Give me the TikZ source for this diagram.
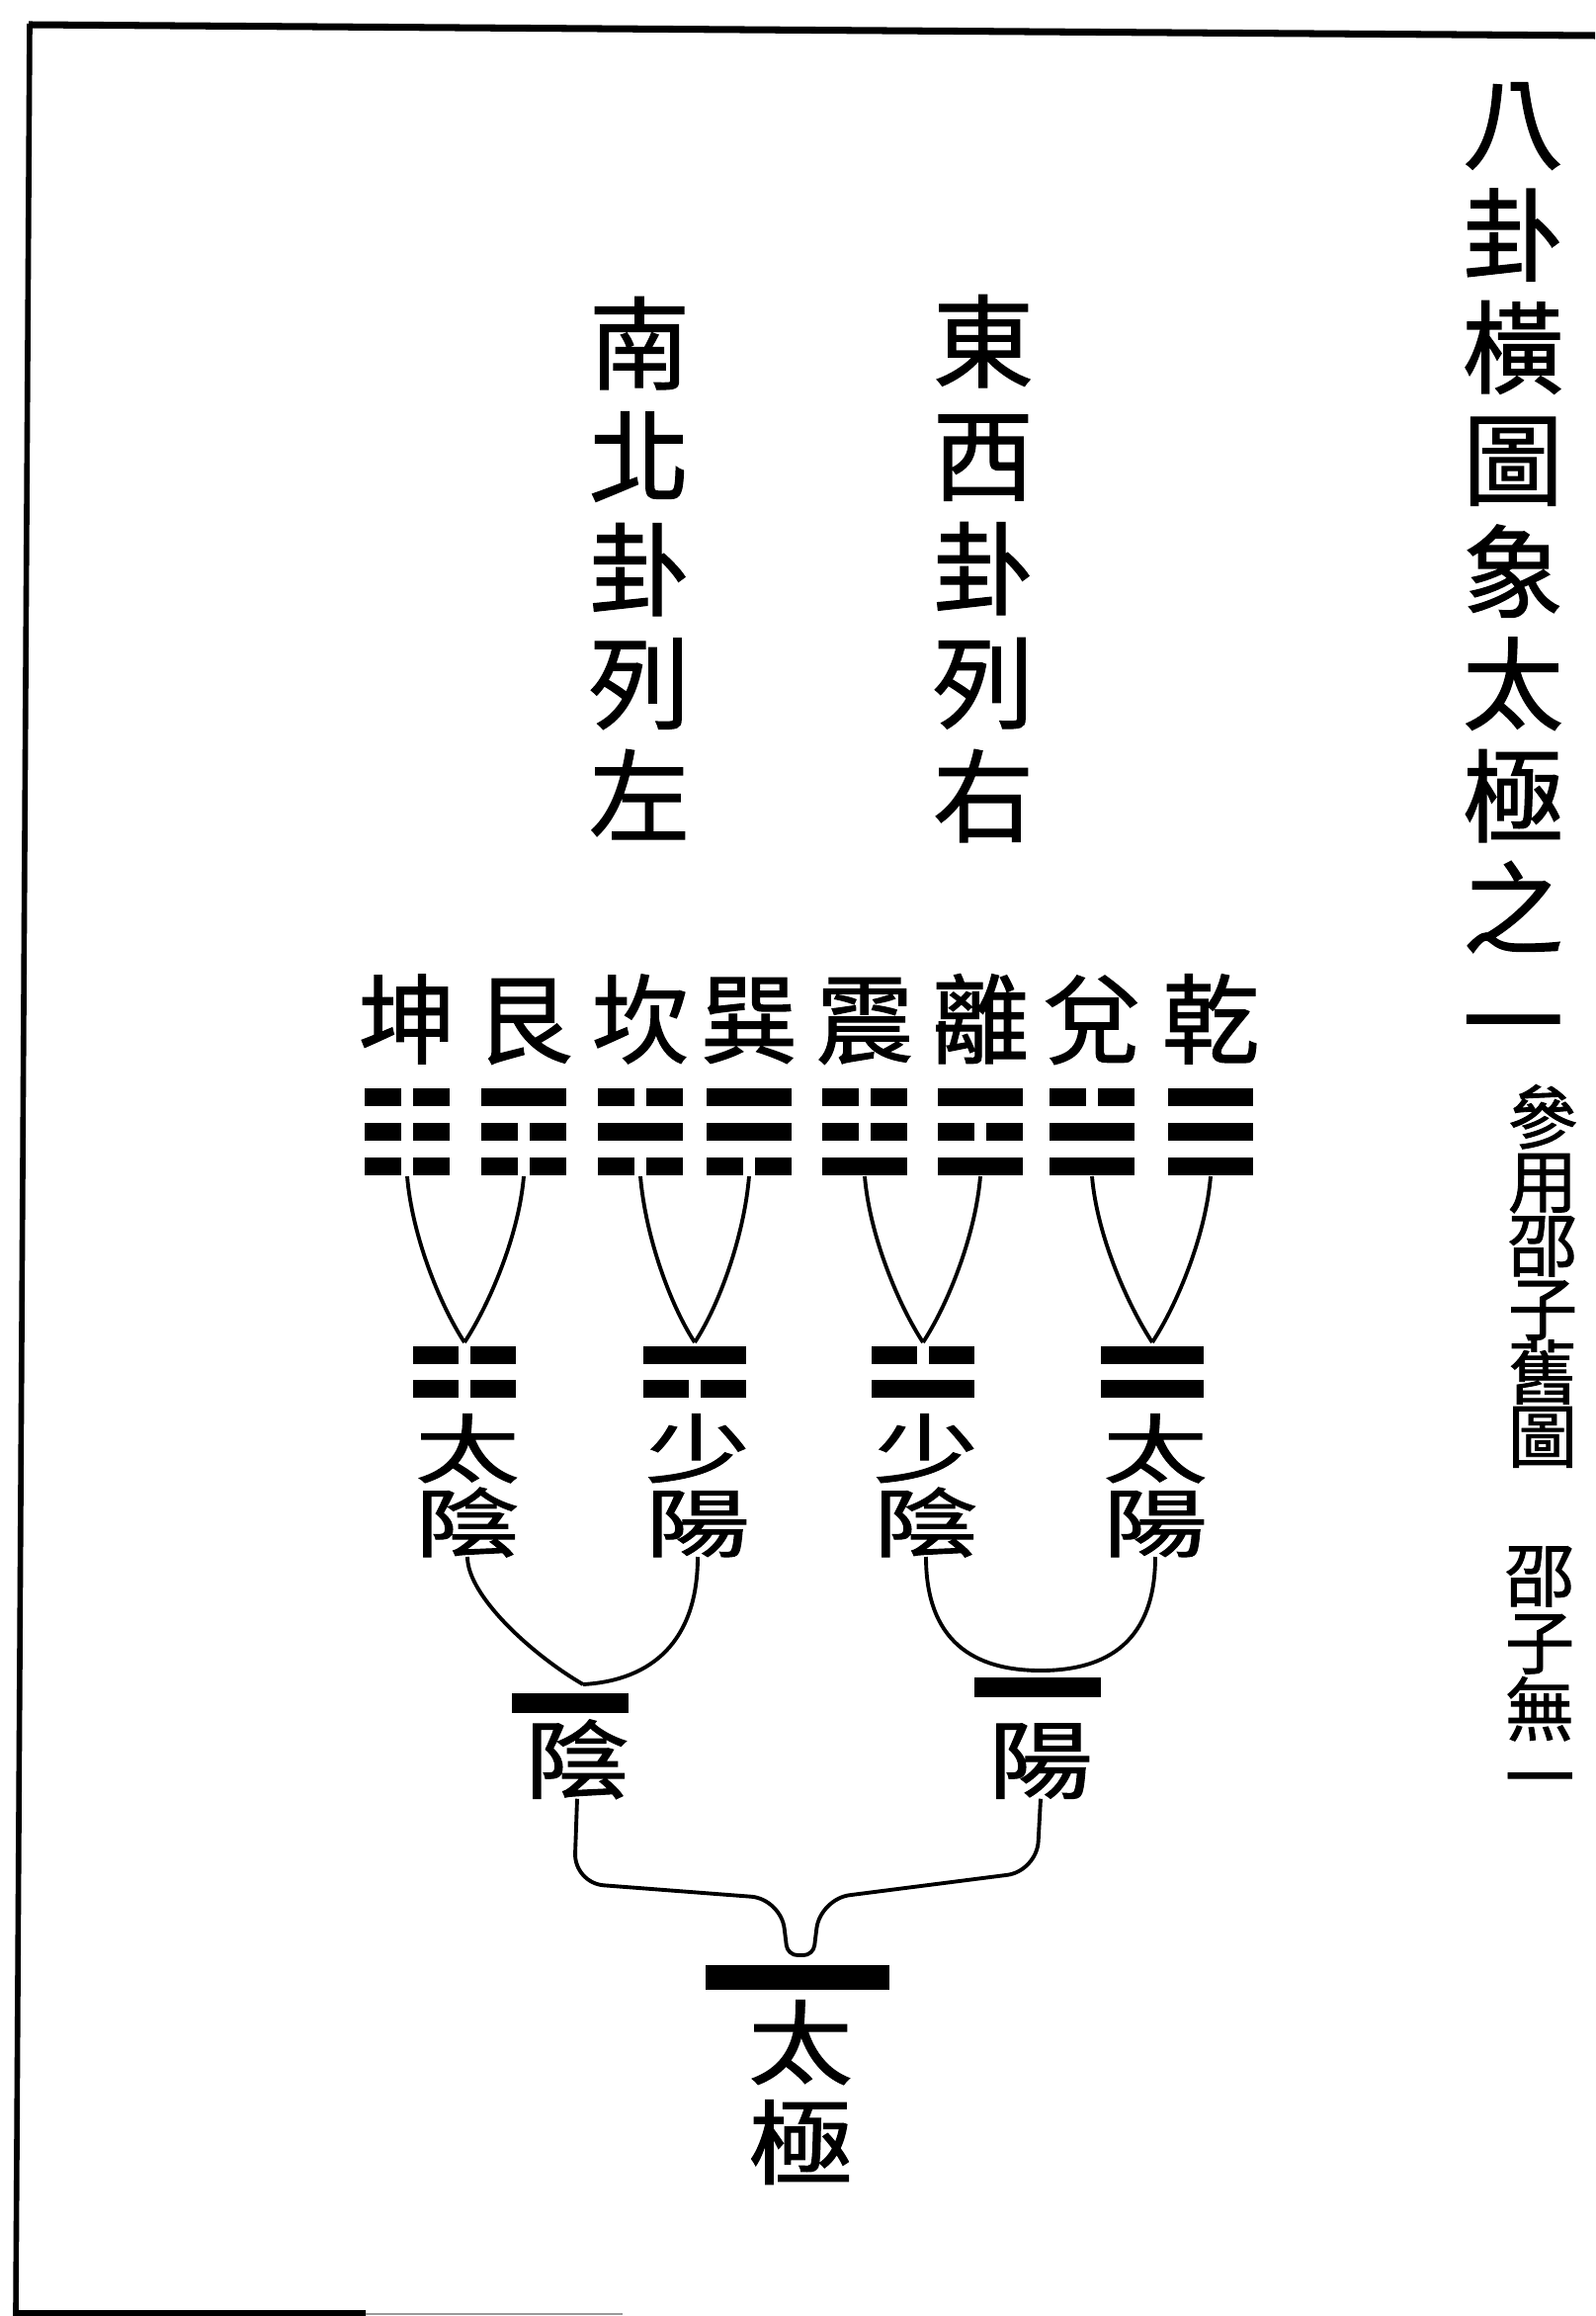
\documentclass[tikz,border=0pt]{standalone}
\usepackage{fontspec}
\usepackage{graphicx}
\newfontfamily\cjk[FakeBold=1.2]{Noto Sans CJK TC}
\newcommand\squash[2]{\scalebox{1}[#1]{#2}}
% one line of a figure: x, y, 1 = whole / 0 = broken, width
\newcommand\yao[4]{%
  \ifnum#3=1
    \fill (#1-#4/2,#2-9) rectangle (#1+#4/2,#2+9);
  \else
    \fill (#1-#4/2,#2-9) rectangle (#1-6,#2+9);
    \fill (#1+6,#2-9) rectangle (#1+#4/2,#2+9);
  \fi}
\begin{document}
\begin{tikzpicture}[x=0.01cm, y=-0.01cm,
  big/.style={inner sep=0pt, text height=24.1pt, text depth=2pt,
              font=\cjk\fontsize{29pt}{29pt}\selectfont},
  gua/.style={inner sep=0pt, text height=23.2pt, text depth=2pt,
              font=\cjk\fontsize{28pt}{28pt}\selectfont},
  note/.style={inner sep=0pt, text height=16.6pt, text depth=1.4pt,
               font=\cjk\fontsize{20pt}{20pt}\selectfont},
  xiang/.style={inner sep=0pt, text height=18pt, text depth=1.5pt,
                font=\cjk\fontsize{30pt}{30pt}\selectfont},
  yi/.style={inner sep=0pt, text height=20.4pt, text depth=1.8pt,
             font=\cjk\fontsize{30pt}{30pt}\selectfont},
  ji/.style={inner sep=0pt, text height=21.9pt, text depth=1.8pt,
             font=\cjk\fontsize{30pt}{30pt}\selectfont},
  bar/.style={fill, inner sep=0pt, minimum height=0.2cm},
  link/.style={line width=1.1pt}]

  \useasboundingbox (0,0) rectangle (1614,2343);

  % frame
  \draw[line width=2pt] (1614,36) -- (29,25);
  \draw[line width=1.6pt] (30,24) -- (16,2340) -- (370,2340);
  \draw[line width=0.6pt, black!40] (370,2341) -- (630,2341);

  % title and notes on the right
  \foreach \c [count=\i] in {八,卦,橫,圖,象,太,極,之,一}
    \node[big] (ti\i) at (1531,{124+(\i-1)*113.5}) {\c};
  \foreach \c [count=\i] in {參,用,邵,子,舊,圖}
    \node[note] (ref\i) at (1561,{1130+(\i-1)*64.5}) {\c};
  \foreach \c [count=\i] in {邵,子,無,一}
    \node[note] (wu\i) at (1558,{1593+(\i-1)*68}) {\c};

  \foreach \c [count=\i] in {南,北,卦,列,左}
    \node[big] (nb\i) at (647,{347+(\i-1)*114.5}) {\c};
  \foreach \c [count=\i] in {東,西,卦,列,右}
    \node[big] (dx\i) at (995,{345+(\i-1)*115}) {\c};

  % eight trigrams: x / name / top, middle, bottom line
  \foreach \x/\nm/\a/\b/\c [count=\i] in {412/坤/0/0/0, 530/艮/1/0/0,
      648/坎/0/1/0, 758/巽/1/1/0, 875/震/0/0/1, 992/離/1/0/1,
      1105/兌/0/1/1, 1225/乾/1/1/1} {
    \node[gua] (gua\i) at (\x,1031) {\nm};
    \yao{\x}{1110}{\a}{86} \yao{\x}{1145}{\b}{86} \yao{\x}{1180}{\c}{86}
    \coordinate (gb\i) at (\x,1190);
  }

  % four figures of two lines
  \foreach \x/\a/\b/\t/\u [count=\i] in {470/0/0/太/陰, 703/1/0/少/陽,
      934/0/1/少/陰, 1166/1/1/太/陽} {
    \yao{\x}{1371}{\a}{104} \yao{\x}{1405}{\b}{104}
    \coordinate (bt\i) at (\x,1358);
    \node[xiang] (xa\i) at (\x+3,1465) {\squash{.72}{\t}};
    \node[xiang] (xb\i) at (\x+3,1540) {\squash{.72}{\u}};
  }

  \foreach \i/\j/\k in {1/2/1, 3/4/2, 5/6/3, 7/8/4} {
    \draw[link] (gb\i) .. controls +(5,60) and +(-25,-38) .. (bt\k);
    \draw[link] (gb\j) .. controls +(-5,60) and +(25,-38) .. (bt\k);
  }

  % yin and yang
  \node[bar, minimum width=1.18cm] (yinbar) at (577,1723) {};
  \node[bar, minimum width=1.27cm] (yangbar) at (1050,1707) {};
  \node[yi] (yin) at (584,1780) {\squash{.82}{陰}};
  \node[yi] (yang) at (1053,1780) {\squash{.82}{陽}};
  \coordinate (yintop) at (590,1704);
  \coordinate (yangtop) at (1053,1690);

  \draw[link] (xb1.south) .. controls +(0,40) and +(-50,-29) .. (yintop);
  \draw[link] (xb2.south) .. controls +(0,85) and +(70,-4) .. (yintop);
  \draw[link] (xb3.south) .. controls +(0,85) and +(-68,0) .. (yangtop);
  \draw[link] (xb4.south) .. controls +(0,85) and +(68,0) .. (yangtop);

  % taiji
  \node[bar, minimum width=1.86cm, minimum height=0.25cm] (taijibar) at (807,2000) {};
  \node[ji] (tai) at (810,2066) {\squash{.88}{太}};
  \node[ji] (ji) at (810,2167) {\squash{.88}{極}};
  \coordinate (taijitop) at (810,1978);

  \draw[link, rounded corners=0.3cm] (yin.south) -- (581,1905) -- (790,1921)
    [rounded corners=0.1cm] -- (797,1978) -- (taijitop);
  \draw[link, rounded corners=0.3cm] (yang.south) -- (1049,1893) -- (830,1921)
    [rounded corners=0.1cm] -- (823,1978) -- (taijitop);
\end{tikzpicture}
\end{document}
